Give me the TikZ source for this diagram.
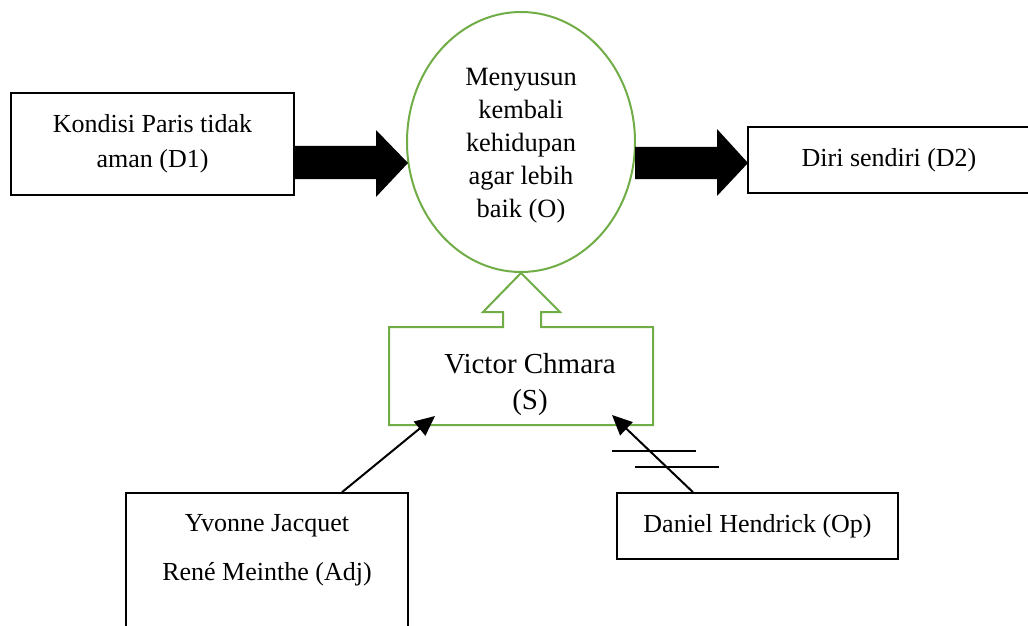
\documentclass[tikz,border=0pt]{standalone}
\usepackage{fontspec}
\setmainfont{Liberation Serif}
\usepackage{tikz}
\usetikzlibrary{calc,positioning,shapes.geometric,arrows.meta}
\definecolor{ijo}{RGB}{112,173,71}
\tikzstyle{box}   = [rectangle, draw=black, line width=0.8pt, align=center, inner sep=0pt, font=\fontsize{13}{17.5}\selectfont]
\tikzstyle{goal}  = [ellipse, draw=ijo, line width=1pt, align=center, inner sep=0pt, minimum width=114pt, minimum height=130pt, font=\fontsize{13.2}{16.5}\selectfont]
\tikzstyle{arrow} = [line width=1pt, -{Triangle[length=10pt,width=9pt]}]
\tikzstyle{strike}= [line width=0.6pt]

\begin{document}
\begin{tikzpicture}[x=0.5pt,y=-0.5pt]
		\useasboundingbox (0,0) rectangle (1028,626);
		\clip (0,0) rectangle (1028,626);

		\node[goal] (obj) at (521,142) {\\[-4pt]Menyusun\\kembali\\kehidupan\\agar lebih\\baik (O)};
		\node[box, minimum width=141.5pt, minimum height=51pt] (d1) at (152.5,144) {Kondisi Paris tidak\\aman (D1)};
		\node[box, minimum width=141pt, minimum height=33pt] (d2) at (889,160) {Diri sendiri (D2)};

		\fill (294,146) -- (376,146) -- (376,130) -- (408,163) -- (376,197) -- (376,179) -- (294,179) -- cycle;
		\fill (635,147) -- (717,147) -- (717,129) -- (748,163) -- (717,196) -- (717,179) -- (635,179) -- cycle;

		% subject box with the hollow arrow
		\coordinate (sw) at (389,425);
		\coordinate (se) at (653,425);
		\draw[draw=ijo, line width=1pt] (sw) -- (389,327) -- (503,327) -- (503,312) -- (483,312)
			-- (obj.south) -- (560,312) -- (541,312) -- (541,327) -- (653,327) -- (se) -- cycle;
		\node[align=center, inner sep=0pt, font=\fontsize{14.5}{18}\selectfont] (subj) at (530,385) {Victor Chmara\\(S)};

		\node[box, minimum width=141pt, minimum height=86pt, font=\fontsize{13}{24.5}\selectfont] (adj) at (267,579) {Yvonne Jacquet\\René Meinthe (Adj)\\\strut};
		\node[box, minimum width=140.5pt, minimum height=33pt] (op) at (757.5,526) {Daniel Hendrick (Op)};

		\draw[arrow] ($(adj.north)+(75,0)$) -- ($(sw)+(46,-9)$);
		\draw[arrow] ($(op.north)+(-64.5,0)$) -- ($(se)+(-41,-10)$);

		\draw[strike] (612,451) -- (696,451);
		\draw[strike] (635,467) -- (719,467);
	\end{tikzpicture}
\end{document}
